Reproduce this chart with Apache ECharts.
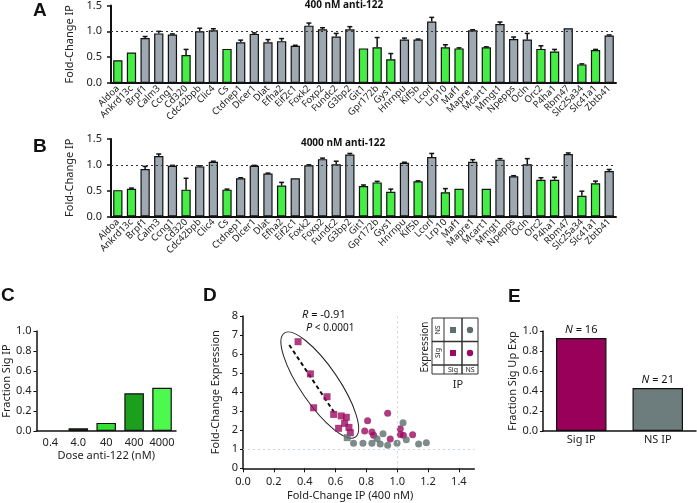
<!DOCTYPE html>
<html>
<head>
<meta charset="utf-8">
<script src="https://cdn.jsdelivr.net/npm/echarts@6/dist/echarts.min.js"></script>
<style>
  html, body { margin: 0; padding: 0; background: #fff; }
  #chart { width: 697px; height: 503px; }
</style>
</head>
<body>
<div id="chart"></div>
<script>
// genes in panels A and B
var genes = ['Aldoa', 'Ankrd13c', 'Brpf1', 'Calm3', 'Ccng1', 'Cd320', 'Cdc42bpb', 'Clic4', 'Cs', 'Ctdnep1',
  'Dicer1', 'Dlat', 'Efha2', 'Eif2c1', 'Foxk2', 'Foxp2', 'Fundc2', 'G3bp2', 'Git1', 'Gpr172b', 'Gys1',
  'Hnrnpu', 'Kif5b', 'Lcorl', 'Lrp10', 'Maf1', 'Mapre1', 'Mcart1', 'Mmgt1', 'Npepps', 'Ocln', 'Orc2',
  'P4ha1', 'Rbm47', 'Slc25a34', 'Slc41a1', 'Zbtb41'];

// 400 nM
var ipA = [0.44, 0.59, 0.87, 0.96, 0.94, 0.54, 1.00, 1.02, 0.66, 0.79,
  0.95, 0.79, 0.81, 0.72, 1.11, 1.04, 0.90, 1.04, 0.67, 0.69, 0.46,
  0.84, 0.84, 1.19, 0.69, 0.67, 1.02, 0.69, 1.14, 0.85, 0.84, 0.66,
  0.61, 1.06, 0.36, 0.64, 0.92];
var errA = [0, 0, 0.03, 0.04, 0.01, 0.11, 0.06, 0.03, 0, 0.04,
  0.02, 0.05, 0.05, 0.01, 0.05, 0.03, 0.06, 0.05, 0, 0.19, 0.11,
  0.03, 0.01, 0.08, 0.05, 0.01, 0.01, 0.01, 0.04, 0.04, 0.12, 0.06,
  0.04, 0, 0.01, 0.01, 0.01];
var sigA = ['Aldoa', 'Ankrd13c', 'Cd320', 'Cs', 'Git1', 'Gpr172b', 'Gys1', 'Lrp10', 'Maf1', 'Mcart1',
  'Orc2', 'P4ha1', 'Slc25a34', 'Slc41a1'];

// 4000 nM
var ipB = [0.51, 0.535, 0.92, 1.17, 0.98, 0.52, 0.97, 1.06, 0.52, 0.74,
  0.98, 0.83, 0.60, 0.74, 0.99, 1.11, 1.01, 1.20, 0.59, 0.66, 0.48,
  1.04, 0.68, 1.15, 0.47, 0.535, 1.06, 0.535, 1.10, 0.78, 1.01, 0.71,
  0.71, 1.21, 0.40, 0.645, 0.88];
var errB = [0, 0.015, 0.05, 0.04, 0.01, 0.22, 0.01, 0.01, 0.01, 0.01,
  0.01, 0.01, 0.06, 0, 0.01, 0.02, 0.06, 0.02, 0.02, 0.02, 0.05,
  0.01, 0.01, 0.07, 0.07, 0, 0.04, 0, 0.02, 0.01, 0.11, 0.04,
  0.05, 0.02, 0.09, 0.04, 0.03];
var sigB = ['Aldoa', 'Ankrd13c', 'Cd320', 'Cs', 'Efha2', 'Git1', 'Gpr172b', 'Gys1', 'Kif5b', 'Lrp10',
  'Maf1', 'Mcart1', 'Orc2', 'P4ha1', 'Slc25a34', 'Slc41a1'];

// panel C
var doses = ['0.4', '4.0', '40', '400', '4000'];
var fracSig = [0, 0.027, 0.081, 0.378, 0.432];
var doseColors = ['#1f5b1f', '#1f5b1f', '#33e033', '#1c9f1c', '#4cf94c'];

// panel D  [fold-change IP, fold-change expression]
var sigIpSigExp = [[0.357, 6.65], [0.437, 4.96], [0.545, 3.76], [0.458, 3.18], [0.588, 2.83], [0.637, 2.75],
  [0.67, 2.68], [0.659, 2.36], [0.62, 2.10], [0.687, 2.15], [0.696, 1.87]];
var nsIpSigExp = [[0.938, 2.89], [0.808, 2.5], [0.789, 1.96], [0.836, 1.91], [0.847, 1.73], [0.955, 1.54],
  [1.02, 2.08], [1.02, 1.78], [1.04, 1.73], [1.10, 1.76]];
var sigIpNsExp = [[0.676, 1.61]];
var nsIpNsExp = [[0.717, 1.31], [0.778, 1.31], [0.836, 1.31], [0.869, 1.55], [0.89, 1.28], [0.908, 1.82],
  [0.938, 1.21], [0.999, 1.31], [1.038, 2.39], [1.059, 1.5], [1.139, 1.28], [1.189, 1.34]];
var fitLine = [[0.30, 6.48], [0.595, 2.89]];

// panel E
var upCats = ['Sig IP', 'NS IP'];
var upFrac = [0.93, 0.43];
var upN = [16, 21];

var FONT = 'Noto Sans';
var GREEN = '#44ee44';
var GRAY = '#9ea8b0';
var MAGENTA = '#9b0b60';
var SLATE = '#5d6e6e';

var chart = echarts.init(document.getElementById('chart'));

function barData(vals, sig) {
  return vals.map(function (v, i) {
    return { value: v, itemStyle: { color: sig.indexOf(genes[i]) >= 0 ? GREEN : GRAY } };
  });
}
function errData(vals, errs) {
  var out = [];
  vals.forEach(function (v, i) {
    if (errs[i] > 0) out.push([i, v, v + errs[i]]);
  });
  return out;
}
function renderErr(params, api) {
  var p0 = api.coord([api.value(0), api.value(1)]);
  var p1 = api.coord([api.value(0), api.value(2)]);
  var half = api.size([1, 0])[0] * 0.18;
  var st = { stroke: '#111', lineWidth: 1.5 };
  return {
    type: 'group',
    children: [
      { type: 'line', shape: { x1: p0[0], y1: p0[1], x2: p1[0], y2: p1[1] }, style: st },
      { type: 'line', shape: { x1: p1[0] - half, y1: p1[1], x2: p1[0] + half, y2: p1[1] }, style: st }
    ]
  };
}

function geneAxis(gi) {
  return {
    type: 'category', gridIndex: gi, data: genes,
    axisLine: { lineStyle: { color: '#111', width: 2 } },
    axisTick: { show: false },
    axisLabel: { interval: 0, rotate: 45, fontSize: 9.5, color: '#222', fontFamily: FONT, margin: 4 }
  };
}
function ipAxis(gi) {
  return {
    type: 'value', gridIndex: gi, min: 0, max: 1.5, interval: 0.5,
    name: 'Fold-Change IP', nameLocation: 'middle', nameGap: 29,
    nameTextStyle: { fontSize: 11, color: '#222', fontFamily: FONT },
    splitLine: { show: false },
    axisLine: { show: true, lineStyle: { color: '#111', width: 2 } },
    axisTick: { show: true, length: 4, lineStyle: { color: '#111', width: 1.5 } },
    axisLabel: { fontSize: 11, color: '#222', fontFamily: FONT, margin: 9,
      formatter: function (v) { return v.toFixed(1); } }
  };
}
function plainAxisStyle(o) {
  o.splitLine = { show: false };
  o.axisLine = { show: true, onZero: false, lineStyle: { color: '#111', width: 1.5 } };
  o.nameTextStyle = Object.assign({ fontSize: 11, color: '#222', fontFamily: FONT }, o.nameTextStyle || {});
  o.axisLabel = Object.assign({ fontSize: 11, color: '#222', fontFamily: FONT }, o.axisLabel || {});
  return o;
}

var dotted1 = {
  silent: true, symbol: 'none', label: { show: false },
  lineStyle: { color: '#333', type: [2, 3], width: 1 },
  data: [{ yAxis: 1 }]
};

var option = {
  animation: false,
  textStyle: { fontFamily: FONT },
  grid: [
    { left: 111, top: 3, width: 505, height: 80 },
    { left: 111, top: 139, width: 505, height: 77.5 },
    { left: 32, top: 331, width: 144, height: 100 },
    { left: 243, top: 316, width: 231.3, height: 152.3 },
    { left: 543, top: 331, width: 153, height: 100 }
  ],
  xAxis: [
    geneAxis(0),
    geneAxis(1),
    plainAxisStyle({
      type: 'category', gridIndex: 2, data: doses,
      name: 'Dose anti-122 (nM)', nameLocation: 'middle', nameGap: 19,
      axisTick: { show: false }, axisLabel: { margin: 6, interval: 0, hideOverlap: false }
    }),
    plainAxisStyle({
      type: 'value', gridIndex: 3, min: 0, max: 1.5,
      name: 'Fold-Change IP (400 nM)', nameLocation: 'middle', nameGap: 22,
      nameTextStyle: { padding: [0, 17, 0, 0] },
      axisTick: { show: true, length: 4, customValues: [0, 0.2, 0.4, 0.6, 0.8, 1.0, 1.2, 1.4] },
      axisLabel: { margin: 8, customValues: [0, 0.2, 0.4, 0.6, 0.8, 1.0, 1.2, 1.4],
        formatter: function (v) { return v.toFixed(1); } }
    }),
    plainAxisStyle({
      type: 'category', gridIndex: 4, data: upCats,
      axisTick: { show: false }, axisLabel: { margin: 3 }
    })
  ],
  yAxis: [
    ipAxis(0),
    ipAxis(1),
    plainAxisStyle({
      type: 'value', gridIndex: 2, min: 0, max: 1, interval: 0.2,
      name: 'Fraction Sig IP', nameLocation: 'middle', nameGap: 22,
      axisTick: { show: true, length: 3 },
      axisLabel: { margin: 5, formatter: function (v) { return v.toFixed(1); } }
    }),
    plainAxisStyle({
      type: 'value', gridIndex: 3, min: 0, max: 8, interval: 1,
      name: 'Fold-Change Expression', nameLocation: 'middle', nameGap: 22,
      axisTick: { show: true, length: 3 },
      axisLabel: { margin: 5 }
    }),
    plainAxisStyle({
      type: 'value', gridIndex: 4, min: 0, max: 1, interval: 0.2,
      name: 'Fraction Sig Up Exp', nameLocation: 'middle', nameGap: 25,
      axisTick: { show: true, length: 3 },
      axisLabel: { margin: 5, formatter: function (v) { return v.toFixed(1); } }
    })
  ],
  series: [
    {
      type: 'bar', xAxisIndex: 0, yAxisIndex: 0, barWidth: '68%',
      data: barData(ipA, sigA),
      itemStyle: { borderColor: '#111', borderWidth: 1.2 },
      markLine: dotted1
    },
    { type: 'custom', xAxisIndex: 0, yAxisIndex: 0, renderItem: renderErr, data: errData(ipA, errA), z: 3 },
    {
      type: 'bar', xAxisIndex: 1, yAxisIndex: 1, barWidth: '68%',
      data: barData(ipB, sigB),
      itemStyle: { borderColor: '#111', borderWidth: 1.2 },
      markLine: dotted1
    },
    { type: 'custom', xAxisIndex: 1, yAxisIndex: 1, renderItem: renderErr, data: errData(ipB, errB), z: 3 },
    {
      type: 'bar', xAxisIndex: 2, yAxisIndex: 2, barWidth: '70%',
      data: fracSig.map(function (v, i) {
        return { value: v, itemStyle: { color: doseColors[i], borderWidth: v > 0 ? 1.2 : 0 } };
      }),
      itemStyle: { borderColor: '#111' }
    },
    {
      type: 'line', xAxisIndex: 3, yAxisIndex: 3, data: fitLine, symbol: 'none',
      lineStyle: { color: '#111', type: [4, 3], width: 2 }, z: 1,
      markLine: {
        silent: true, symbol: 'none', label: { show: false },
        lineStyle: { color: '#c5d3e0', type: [2, 3], width: 1 },
        data: [{ yAxis: 1 }, { xAxis: 1 }]
      }
    },
    { type: 'scatter', xAxisIndex: 3, yAxisIndex: 3, data: sigIpSigExp, symbol: 'rect', symbolSize: 7,
      itemStyle: { color: MAGENTA }, z: 3 },
    { type: 'scatter', xAxisIndex: 3, yAxisIndex: 3, data: nsIpSigExp, symbol: 'circle', symbolSize: 7,
      itemStyle: { color: MAGENTA }, z: 3 },
    { type: 'scatter', xAxisIndex: 3, yAxisIndex: 3, data: sigIpNsExp, symbol: 'rect', symbolSize: 7,
      itemStyle: { color: SLATE }, z: 3 },
    { type: 'scatter', xAxisIndex: 3, yAxisIndex: 3, data: nsIpNsExp, symbol: 'circle', symbolSize: 7,
      itemStyle: { color: SLATE }, z: 3 },
    {
      type: 'bar', xAxisIndex: 4, yAxisIndex: 4, barWidth: '66%',
      data: upFrac.map(function (v, i) {
        return { value: v, itemStyle: { color: i === 0 ? '#99005a' : '#6d7d7d' } };
      }),
      itemStyle: { borderColor: '#111', borderWidth: 1.2 },
      label: {
        show: true, position: 'top', distance: 3, fontSize: 11, color: '#111', fontFamily: FONT,
        formatter: function (p) { return '{i|N} = ' + upN[p.dataIndex]; },
        rich: { i: { fontStyle: 'italic', fontSize: 11, fontFamily: FONT, color: '#111' } }
      }
    }
  ],
  graphic: [
    { id: 'la', type: 'text', left: 33, top: 1, style: { text: 'A', font: 'bold 19px Liberation Sans', fill: '#111' } },
    { id: 'lb', type: 'text', left: 33, top: 137, style: { text: 'B', font: 'bold 19px Liberation Sans', fill: '#111' } },
    { id: 'lc', type: 'text', left: 1, top: 286, style: { text: 'C', font: 'bold 19px Liberation Sans', fill: '#111' } },
    { id: 'ld', type: 'text', left: 203, top: 286, style: { text: 'D', font: 'bold 19px Liberation Sans', fill: '#111' } },
    { id: 'le', type: 'text', left: 508, top: 287, style: { text: 'E', font: 'bold 19px Liberation Sans', fill: '#111' } },
    { id: 'ta', type: 'text', x: 344, y: 5, style: { text: '400 nM anti-122', font: 'bold 10px ' + FONT, fill: '#111', align: 'center', verticalAlign: 'middle' } },
    { id: 'tb', type: 'text', x: 343, y: 143, style: { text: '4000 nM anti-122', font: 'bold 10px ' + FONT, fill: '#111', align: 'center', verticalAlign: 'middle' } },
    { id: 'rr', type: 'text', x: 302, y: 315, style: {
      text: '{i|R} = -0.91', verticalAlign: 'middle', fill: '#111',
      rich: { i: { fontStyle: 'italic', fontSize: 11, fontFamily: FONT } }, font: '11px ' + FONT } },
    { id: 'pp', type: 'text', x: 306, y: 328, style: {
      text: '{i|P} < 0.0001', verticalAlign: 'middle', fill: '#111',
      rich: { i: { fontStyle: 'italic', fontSize: 11, fontFamily: FONT } }, font: '10px ' + FONT } },
    // inset key for panel D
    { id: 'k1', type: 'polyline', shape: { points: [[432, 318], [478, 318], [478, 374], [444, 374], [444, 318]] }, style: { stroke: '#333', lineWidth: 1, fill: 'none' } },
    { id: 'k2', type: 'line', shape: { x1: 432, y1: 318, x2: 432, y2: 374 }, style: { stroke: '#333', lineWidth: 1 } },
    { id: 'k3', type: 'line', shape: { x1: 432, y1: 341.5, x2: 478, y2: 341.5 }, style: { stroke: '#333', lineWidth: 1.5 } },
    { id: 'k4', type: 'line', shape: { x1: 432, y1: 365, x2: 478, y2: 365 }, style: { stroke: '#333', lineWidth: 1.5 } },
    { id: 'k5', type: 'line', shape: { x1: 462, y1: 318, x2: 462, y2: 374 }, style: { stroke: '#333', lineWidth: 1.5 } },
    { id: 'k6', type: 'line', shape: { x1: 432, y1: 374, x2: 444, y2: 374 }, style: { stroke: '#333', lineWidth: 1 } },
    { id: 'k7', type: 'text', x: 438, y: 330, rotation: Math.PI / 2, style: { text: 'NS', font: '7px ' + FONT, fill: '#222', align: 'center', verticalAlign: 'middle' } },
    { id: 'k8', type: 'text', x: 438, y: 353, rotation: Math.PI / 2, style: { text: 'Sig', font: '7px ' + FONT, fill: '#222', align: 'center', verticalAlign: 'middle' } },
    { id: 'k9', type: 'text', x: 453, y: 369.5, style: { text: 'Sig', font: '7px ' + FONT, fill: '#222', align: 'center', verticalAlign: 'middle' } },
    { id: 'k10', type: 'text', x: 470, y: 369.5, style: { text: 'NS', font: '7px ' + FONT, fill: '#222', align: 'center', verticalAlign: 'middle' } },
    { id: 'k11', type: 'rect', shape: { x: 450, y: 327, width: 6, height: 6 }, style: { fill: SLATE } },
    { id: 'k12', type: 'circle', shape: { cx: 470, cy: 330, r: 3.2 }, style: { fill: SLATE } },
    { id: 'k13', type: 'rect', shape: { x: 450, y: 350, width: 6, height: 6 }, style: { fill: MAGENTA } },
    { id: 'k14', type: 'circle', shape: { cx: 470, cy: 353, r: 3.2 }, style: { fill: MAGENTA } },
    { id: 'k15', type: 'text', x: 425, y: 347, rotation: Math.PI / 2, style: { text: 'Expression', font: '10px ' + FONT, fill: '#222', align: 'center', verticalAlign: 'middle' } },
    { id: 'k16', type: 'text', x: 458, y: 385, style: { text: 'IP', font: '11px ' + FONT, fill: '#222', align: 'center', verticalAlign: 'middle' } }
  ]
};

chart.setOption(option);

// ellipse drawn round the significant-IP cluster, centred in data space
var ellCentre = [0.498, 4.37];
var c = chart.convertToPixel({ xAxisIndex: 3, yAxisIndex: 3 }, ellCentre);
chart.setOption({
  graphic: [{
    id: 'ell', type: 'ellipse', x: c[0], y: c[1], rotation: -0.972,
    shape: { cx: 0, cy: 0, rx: 63, ry: 19 },
    style: { fill: 'none', stroke: '#222', lineWidth: 1 }, z: 2
  }]
});
</script>
</body>
</html>
